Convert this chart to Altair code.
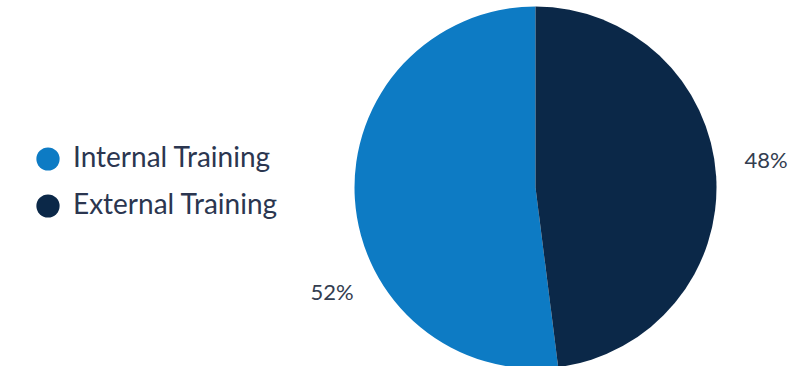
import altair as alt
import pandas as pd

categories = ["Internal Training", "External Training"]
shares = [52, 48]
labels = ["52%", "48%"]
colors = ["#0d7bc4", "#0b2848"]

df = pd.DataFrame({"category": categories, "share": shares, "label": labels})

theta_scale = alt.Scale(domain=[0, 100])

# stack slices clockwise from 12 o'clock, External first
base = (
    alt.Chart(df)
    .transform_stack(
        stack="share",
        groupby=[],
        as_=["start", "end"],
        sort=[alt.SortField("category", order="ascending")],
    )
    .transform_calculate(mid="(datum.start + datum.end) / 2")
)

pie = base.mark_arc(outerRadius=181, strokeWidth=0).encode(
    theta=alt.Theta("start:Q", scale=theta_scale),
    theta2="end:Q",
    color=alt.Color(
        "category:N",
        scale=alt.Scale(domain=categories, range=colors),
        legend=alt.Legend(
            title=None,
            orient="none",
            legendX=-235,
            legendY=136,
            symbolType="circle",
            symbolSize=540,
            symbolStrokeWidth=0,
            labelFont="Lato",
            labelFontSize=28,
            labelColor="#2b3650",
            labelOffset=11,
            labelLimit=400,
            rowPadding=19,
        ),
    ),
)


def pct_label(cat, dx, dy):
    return (
        base.transform_filter(alt.datum.category == cat)
        .mark_text(
            radius=231,
            dx=dx,
            dy=dy,
            font="Lato",
            fontSize=22,
            color="#333d4f",
            align="center",
            baseline="middle",
        )
        .encode(theta=alt.Theta("mid:Q", scale=theta_scale), text="label:N")
    )


chart = (
    alt.layer(pie, pct_label("External Training", 0, -12), pct_label("Internal Training", 27, 91))
    .properties(
        width=533,
        height=357,
        autosize=alt.AutoSizeParams(type="none"),
        padding={"left": 269, "top": 9, "right": 0, "bottom": 0},
        background="white",
    )
    .configure_view(stroke=None)
)

chart.save("out.html", embed_options={"renderer": "svg", "actions": False})
